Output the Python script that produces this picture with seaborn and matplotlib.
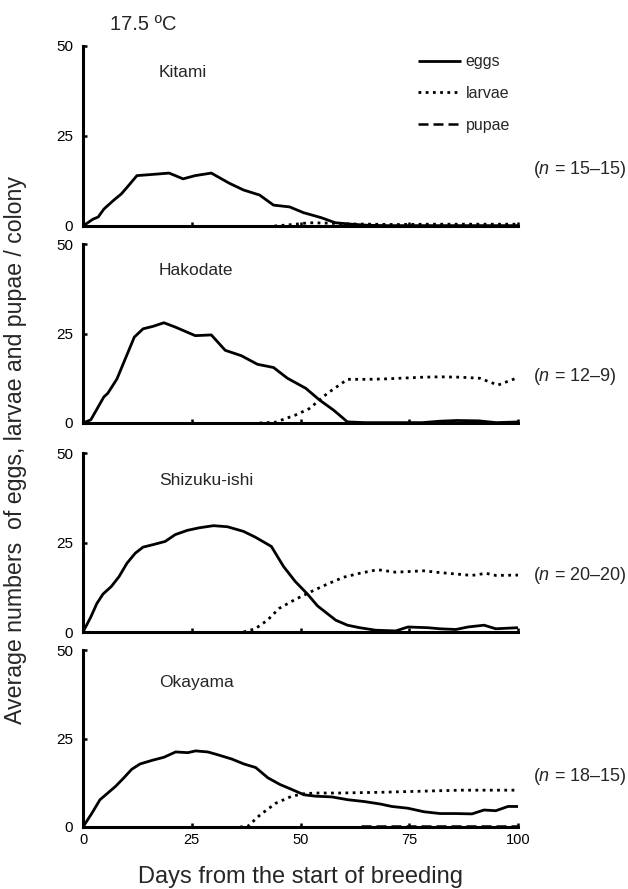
import matplotlib
matplotlib.use("Agg")
import matplotlib.pyplot as plt
import numpy as np
import pandas as pd
import seaborn as sns

sns.set_theme(style="ticks")
plt.rcParams["font.family"] = ["Liberation Sans", "DejaVu Sans"]
plt.rcParams["mathtext.fontset"] = "custom"
plt.rcParams["mathtext.rm"] = "Liberation Sans"
plt.rcParams["mathtext.it"] = "Liberation Sans:italic"

# ---------------- data ----------------
sites = ["Kitami", "Hakodate", "Shizuku-ishi", "Okayama"]
n_labels = ["15–15", "12–9", "20–20", "18–15"]
series_names = ["eggs", "larvae", "pupae"]
x_ticks = [0, 25, 50, 75, 100]
y_ticks = [0, 25, 50]

kitami_egg_day = [0, 2.3, 3.5, 4.8, 6.9, 8.8, 10.1, 12.4, 15.7, 19.8, 23.0, 25.8, 29.5, 33.6,
                  36.9, 40.6, 43.8, 47.5, 50.7, 54.8, 58.0, 61.8, 65.4, 70, 80, 90, 100]
kitami_egg_val = [0, 1.9, 2.5, 4.7, 7.0, 8.9, 10.7, 14.0, 14.3, 14.7, 13.1, 14.0, 14.7, 11.9,
                  10.0, 8.6, 5.8, 5.3, 3.7, 2.3, 0.9, 0.5, 0.2, 0.1, 0.1, 0.1, 0.1]
kitami_larva_day = [44, 48, 52, 56, 60, 66, 72, 80, 88, 94, 100]
kitami_larva_val = [0, 0.4, 0.9, 0.8, 0.6, 0.5, 0.4, 0.5, 0.5, 0.5, 0.5]

hakodate_egg_day = [0, 1.8, 4.8, 5.7, 7.8, 9.95, 11.8, 13.8, 16.1, 18.6, 21.2, 23.5, 25.8, 29.5,
                    32.7, 36.4, 40.1, 43.8, 47.0, 51.2, 54.4, 57.6, 60.8, 65, 72, 78, 82, 86,
                    91, 95, 100]
hakodate_egg_val = [0, 0.9, 7.3, 8.3, 12.3, 18.6, 24.0, 26.3, 27.0, 28.0, 26.8, 25.6, 24.4, 24.6,
                    20.3, 18.8, 16.4, 15.5, 12.5, 9.7, 6.4, 3.6, 0.3, 0.1, 0.1, 0.1, 0.5, 0.7,
                    0.6, 0.1, 0.3]
hakodate_larva_day = [40.6, 44.2, 48.8, 52.0, 56.2, 60.8, 65.4, 69.1, 72.8, 78.3, 82.0, 86.6,
                      91.2, 95.4, 100]
hakodate_larva_val = [0, 0.2, 2.2, 4.0, 8.3, 12.2, 12.2, 12.3, 12.5, 12.8, 12.9, 12.8,
                      12.5, 10.6, 12.7]

shizuku_egg_day = [0, 1.8, 3.2, 4.6, 6.5, 8.3, 10.1, 12.0, 13.8, 16.1, 18.9, 21.2, 24.0, 26.7,
                   30.0, 33.2, 36.9, 39.6, 43.3, 46.1, 48.8, 51.6, 53.9, 58.1, 60.8, 63.6, 67.3,
                   71.9, 74.7, 79.3, 82.0, 85.7, 88.5, 92.2, 94.9, 100]
shizuku_egg_val = [0, 4.2, 8.0, 10.6, 12.7, 15.5, 19.2, 22.0, 23.7, 24.4, 25.3, 27.2, 28.4, 29.1,
                   29.7, 29.4, 28.1, 26.5, 23.9, 18.3, 14.1, 10.6, 7.3, 3.3, 1.9, 1.2, 0.5,
                   0.3, 1.4, 1.2, 0.9, 0.7, 1.4, 1.9, 0.9, 1.2]
shizuku_larva_day = [36.9, 39.6, 42.4, 45.1, 48.8, 52.5, 56.2, 59.9, 63.6, 67.7, 71.9, 78.3,
                     82.0, 85.7, 89.4, 92.6, 94.9, 100]
shizuku_larva_val = [0, 0.9, 3.3, 6.6, 9.1, 11.3, 13.4, 15.3, 16.4, 17.4, 16.7, 17.1,
                     16.6, 16.2, 15.8, 16.4, 15.8, 15.9]

okayama_egg_day = [0, 2.0, 3.9, 5.7, 7.5, 9.4, 11.2, 13.1, 15.8, 18.6, 21.3, 24.1, 25.9, 28.7,
                   31.0, 34.2, 37.0, 39.7, 42.5, 45.3, 48.0, 50.8, 53.5, 57.2, 60.9, 64.6, 68.3,
                   71.0, 74.7, 78.4, 82.1, 85.7, 89.4, 92.2, 94.9, 97.7, 100]
okayama_egg_val = [0, 3.8, 7.7, 9.6, 11.5, 13.9, 16.3, 17.8, 18.8, 19.7, 21.2, 21.0, 21.5, 21.2,
                   20.4, 19.2, 17.8, 16.8, 13.9, 12.0, 10.6, 9.1, 8.7, 8.5, 7.7, 7.2, 6.5,
                   5.8, 5.3, 4.3, 3.8, 3.8, 3.7, 4.8, 4.6, 5.8, 5.8]
okayama_larva_day = [36.1, 37.9, 40.7, 44.3, 48.0, 50.8, 53.5, 59.0, 68.3, 77.5, 86.7, 100]
okayama_larva_val = [0, 0.2, 3.4, 6.7, 8.7, 9.4, 9.6, 9.6, 9.8, 10.1, 10.4, 10.4]
okayama_pupa_day = [64, 100]
okayama_pupa_val = [0.2, 0.2]

egg_days = [kitami_egg_day, hakodate_egg_day, shizuku_egg_day, okayama_egg_day]
egg_vals = [kitami_egg_val, hakodate_egg_val, shizuku_egg_val, okayama_egg_val]
larva_days = [kitami_larva_day, hakodate_larva_day, shizuku_larva_day, okayama_larva_day]
larva_vals = [kitami_larva_val, hakodate_larva_val, shizuku_larva_val, okayama_larva_val]
pupa_days = [[], [], [], okayama_pupa_day]
pupa_vals = [[], [], [], okayama_pupa_val]

# annotation positions (data coords)
n_label_y = [15.6, 12.9, 15.9, 14.4]
site_label_y = [42.7, 42.5, 42.2, 40.7]

# ---------------- figure ----------------
W, H = 628, 889
fig = plt.figure(figsize=(W / 100, H / 100), dpi=100)
panel_px = [(46, 226), (244, 423), (453, 632), (650, 827)]
x0_px, x1_px = 83, 518

styles = {"eggs": dict(ls="-", lw=2.0),
          "larvae": dict(ls=(0, (1, 1.6)), lw=2.0),
          "pupae": dict(ls=(0, (4, 2)), lw=1.8)}

for i, site in enumerate(sites):
    top, bot = panel_px[i]
    ax = fig.add_axes([x0_px / W, 1 - bot / H, (x1_px - x0_px) / W, (bot - top) / H])
    for name, d, v in [("eggs", egg_days[i], egg_vals[i]),
                       ("larvae", larva_days[i], larva_vals[i]),
                       ("pupae", pupa_days[i], pupa_vals[i])]:
        if len(d) == 0:
            continue
        df = pd.DataFrame({"day": d, "value": v, "stage": name})
        sns.lineplot(data=df, x="day", y="value", ax=ax, color="black",
                     estimator=None, sort=False, label=name if i == 0 else None,
                     solid_capstyle="butt", dash_capstyle="butt", zorder=3,
                     **styles[name])
    if i == 0:
        # pupae stay at zero in this panel; entry kept for the legend
        ax.plot([], [], color="black", label="pupae", **styles["pupae"])
    ax.set_xlim(0, 100)
    ax.set_ylim(0, 50)
    ax.set_xticks(x_ticks)
    ax.set_yticks(y_ticks)
    ax.set_yticklabels([str(t) for t in y_ticks], fontsize=11)
    if i == 3:
        ax.set_xticklabels([str(t) for t in x_ticks], fontsize=10.5)
    else:
        ax.set_xticklabels([])
    ax.tick_params(axis="both", direction="in", length=3, width=1.8, colors="black", pad=7)
    ax.tick_params(axis="x", pad=4)
    for s in ["top", "right"]:
        ax.spines[s].set_visible(False)
    for s in ["left", "bottom"]:
        ax.spines[s].set_linewidth(2.2)
        ax.spines[s].set_color("black")
    ax.set_xlabel("")
    ax.set_ylabel("")
    ax.patch.set_alpha(0)
    ax.text(17.5, site_label_y[i], site, fontsize=12.5, va="center", ha="left")
    ax.text(103.4, n_label_y[i], r"($\it{n}$ = " + n_labels[i] + ")", fontsize=13,
            va="center", ha="left", clip_on=False)
    if i == 0:
        handles, labels = ax.get_legend_handles_labels()
        ax.legend(handles, labels, loc="upper left", bbox_to_anchor=(0.755, 0.99),
                  frameon=False, fontsize=11.5, handlelength=2.7, handletextpad=0.3,
                  labelspacing=1.05, borderaxespad=0)
    elif ax.get_legend() is not None:
        ax.get_legend().remove()

fig.text(110 / W, 1 - 25 / H, "17.5 ºC", fontsize=14.5, ha="left", va="center")
fig.text(16 / W, 1 - 450 / H, "Average numbers  of eggs, larvae and pupae / colony",
         rotation=90, fontsize=16.7, ha="center", va="center")
fig.text(300 / W, 1 - 877 / H, "Days from the start of breeding", fontsize=17,
         ha="center", va="center")

fig.savefig("out.png", dpi=100)
